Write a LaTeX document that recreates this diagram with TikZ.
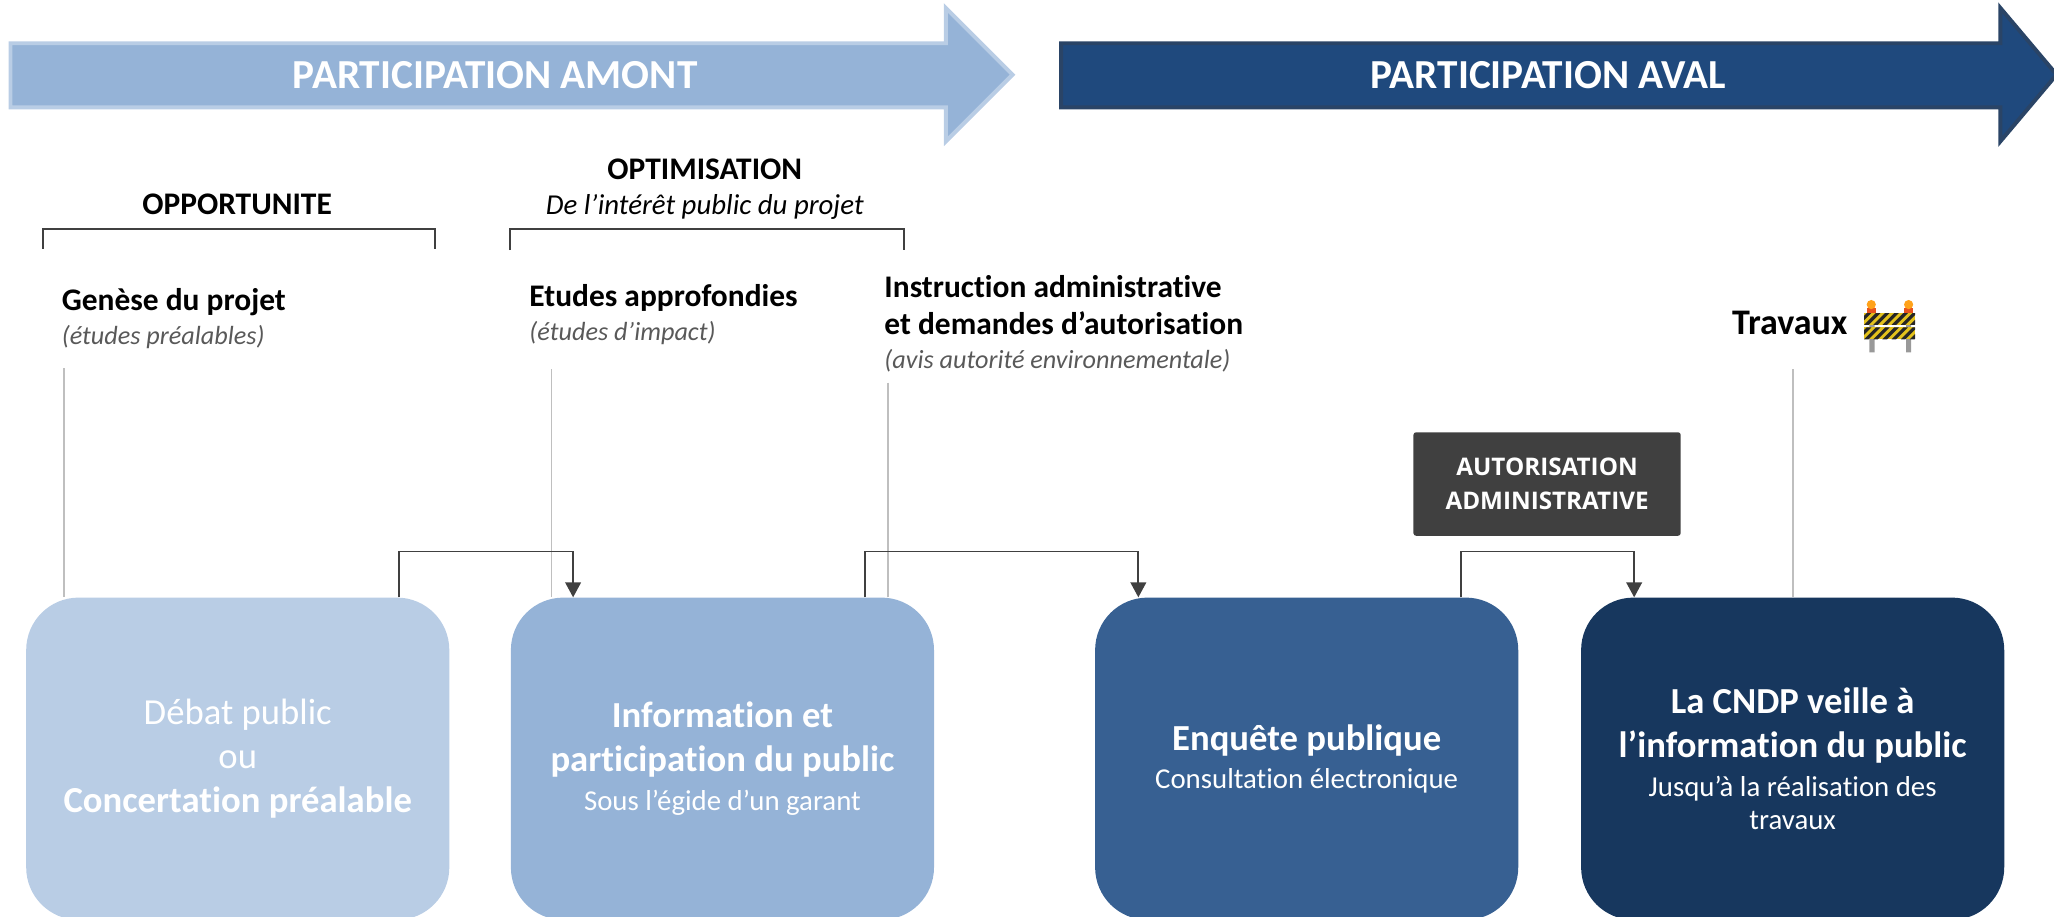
\documentclass[tikz,border=0pt]{standalone}
\usepackage{fontspec}
\setmainfont{Carlito}[Ligatures=NoCommon]
\newfontfamily\boxfont{Open Sans}
\usepackage{tikz}
\usetikzlibrary{arrows.meta}
\definecolor{paleblue}{HTML}{B9CDE5}
\definecolor{midblue}{HTML}{95B3D7}
\definecolor{deepblue}{HTML}{376092}
\definecolor{navyblue}{HTML}{17375E}
\definecolor{avalblue}{HTML}{1F497D}
\definecolor{avalrim}{HTML}{2A4466}
\definecolor{darkgrey}{HTML}{404040}
\definecolor{lightgrey}{HTML}{BFBFBF}
\definecolor{subgrey}{HTML}{595959}
\definecolor{barrieryellow}{HTML}{E3C21C}
\definecolor{lampred}{HTML}{E8541E}
\definecolor{lamporange}{HTML}{FFA21A}
\tikzset{
  stage/.style={rectangle, rounded corners=40pt, minimum width=323pt, minimum height=246pt,
    inner sep=0pt, anchor=north, text=white, align=center, font=\fontsize{28}{33.6}\selectfont},
  banner/.style={text=white, font=\bfseries\fontsize{31.5}{36}\selectfont, inner sep=0pt},
  head/.style={font=\bfseries\fontsize{24}{28.5}\selectfont, anchor=base west, inner sep=0pt},
  note/.style={font=\itshape\fontsize{20}{24}\selectfont, text=subgrey, anchor=base west, inner sep=0pt},
  flow/.style={darkgrey, line width=1.5pt, -{Triangle[width=12pt,length=11.5pt]}},
  tick/.style={lightgrey, line width=1.5pt},
  brace/.style={darkgrey, line width=1.5pt},
}
\newcommand{\subline}[1]{{\fontsize{22}{26}\selectfont #1}}
\begin{document}
\begin{tikzpicture}[x=1pt,y=-1pt]
\useasboundingbox (0,0) rectangle (1568,700);
% Drawing banners
\filldraw[fill=midblue, draw=paleblue, line width=3pt] (8,33) -- (722,33) -- (722,6) -- (773,57) -- (722,108) -- (722,82) -- (8,82) -- cycle;
\filldraw[fill=avalblue, draw=avalrim, line width=3pt] (810,33) -- (1527,33) -- (1527,6) -- (1570,57) -- (1527,108) -- (1527,82) -- (810,82) -- cycle;
\node[banner] (amont) at (378,57) {PARTICIPATION AMONT};
\node[banner] (aval) at (1182,57) {PARTICIPATION AVAL};
% Done with banners; drawing phases
\node[head, anchor=base] (opport) at (181,164) {OPPORTUNITE};
\draw[brace] (33,190) -- (33,175) -- (332,175) -- (332,190);
\node[head, anchor=base] (optim) at (538,137) {OPTIMISATION};
\node[font=\itshape\fontsize{22}{26}\selectfont, anchor=base, inner sep=0pt] (optimsub) at (538,164) {De l’intérêt public du projet};
\draw[brace] (389,191) -- (389,175) -- (690,175) -- (690,191);
% Steps
\node[head] (genese) at (47,237) {Genèse du projet};
\node[note] (genesesub) at (47,263) {(études préalables)};
\node[head] (etudes) at (404,234) {Etudes approfondies};
\node[note] (etudessub) at (404,260) {(études d’impact)};
\node[head] (instr) at (675,227) {Instruction administrative};
\node[head] (instrb) at (675,255) {et demandes d’autorisation};
\node[note] (instrsub) at (675,281) {(avis autorité environnementale)};
\node[head, font=\bfseries\fontsize{27.5}{32}\selectfont] (travaux) at (1322,255) {Travaux};
% barrier icon
\fill[lightgrey!80!black] (1427,248) rectangle (1431,269) (1455,248) rectangle (1459,269);
\foreach \top in {239,250}{
  \begin{scope}
  \clip (1423,\top) rectangle (1462,\top+9);
  \fill[barrieryellow] (1423,\top) rectangle (1462,\top+9);
  \foreach \k in {-1,...,6} \fill[black!85] ({1423+\k*7},\top+9) -- ++(3.5,0) -- ++(9,-9) -- ++(-3.5,0) -- cycle;
  \end{scope}
}
\foreach \lx in {1428.5,1457}{
  \fill[lampred] (\lx-3.5,235.5) rectangle (\lx+3.5,239);
  \fill[lamporange] (\lx,232.5) circle (3.5pt);
}
% Done with steps; drawing stages
\node[stage, fill=paleblue] (debat) at (181.5,456) {Débat public\\ou\\\textbf{Concertation préalable}};
\node[stage, fill=midblue] (info) at (551.5,456) {\textbf{Information et}\\\textbf{participation du public}\\[-4pt]\subline{Sous l’égide d’un garant}};
\node[stage, fill=deepblue] (enquete) at (997.5,456) {\textbf{Enquête publique}\\[-5pt]\subline{Consultation électronique}};
\node[stage, fill=navyblue] (cndp) at (1368.5,456) {\textbf{La CNDP veille à}\\\textbf{l’information du public}\\[-4pt]\subline{Jusqu’à la réalisation des}\\[-8pt]\subline{travaux}};
\node[fill=darkgrey, rounded corners=2pt, minimum width=204pt, minimum height=79pt, text=white, align=center,
  font=\boxfont\bfseries\fontsize{18.5}{26}\selectfont] (autor) at (1181,369.5) {AUTORISATION\\ADMINISTRATIVE};
% Done with stages; drawing lines
\coordinate (genesefoot) at (49,281);
\coordinate (etudesfoot) at (421,282);
\coordinate (instrfoot) at (678,292);
\coordinate (travauxfoot) at (1369,282);
\draw[tick] (genesefoot) -- (genesefoot |- debat.north);
\draw[tick] (etudesfoot) -- (etudesfoot |- info.north);
\draw[tick] (instrfoot) -- (instrfoot |- info.north);
\draw[tick] (travauxfoot) -- (travauxfoot |- cndp.north);
\draw[flow] ([xshift=123pt]debat.north) -- ++(0,-35) -| ([xshift=-114pt]info.north);
\draw[flow] ([xshift=108.5pt]info.north) -- ++(0,-35) -| ([xshift=-128.5pt]enquete.north);
\draw[flow] ([xshift=118pt]enquete.north) -- ++(0,-35) -| ([xshift=-121pt]cndp.north);
% Done with lines
\end{tikzpicture}
\end{document}
